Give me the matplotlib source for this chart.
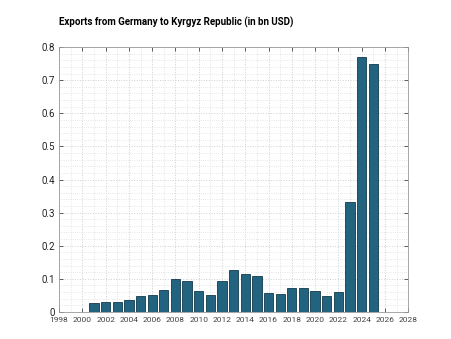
import matplotlib.pyplot as plt
from matplotlib.ticker import MultipleLocator

plt.rcParams["font.family"] = ["Roboto", "DejaVu Sans"]

years = list(range(2001, 2026))
exports = [0.028, 0.030, 0.031, 0.036, 0.048, 0.051, 0.066, 0.098, 0.092,
           0.063, 0.051, 0.092, 0.127, 0.115, 0.108, 0.057, 0.054, 0.071,
           0.072, 0.063, 0.047, 0.059, 0.332, 0.771, 0.748]
title = "Exports from Germany to Kyrgyz Republic (in bn USD)"

fig = plt.figure(figsize=(4.51, 3.39), dpi=100)
ax = fig.add_axes([0.131, 0.080, 0.774, 0.781])

ax.bar(years, exports, width=0.8, color="#22637f", edgecolor="#123a4c",
       linewidth=0.6, zorder=3)

ax.set_xlim(1998, 2028)
ax.set_ylim(0, 0.8)
ax.xaxis.set_major_locator(MultipleLocator(2))
ax.xaxis.set_minor_locator(MultipleLocator(1))
ax.yaxis.set_major_locator(MultipleLocator(0.1))
ax.yaxis.set_minor_locator(MultipleLocator(0.02))
ax.yaxis.set_major_formatter(lambda v, p: "0" if v == 0 else f"{v:g}")

ax.grid(which="major", color="#cfcfcf", linestyle=":", linewidth=0.7, zorder=0)
ax.grid(which="minor", color="#dedede", linestyle=":", linewidth=0.6, zorder=0)
ax.tick_params(which="both", direction="in", top=True, right=True,
               colors="#444444", labelcolor="#222222")
ax.tick_params(which="major", length=3, width=0.6)
ax.tick_params(which="minor", length=0)
ax.tick_params(axis="x", labelsize=6, pad=4, labelcolor="#444444")
ax.tick_params(axis="y", labelsize=7, pad=3)
for s in ax.spines.values():
    s.set_color("#999999")
    s.set_linewidth(0.6)

fig.text(0.131, 0.935, title, fontsize=7, fontweight="bold", ha="left",
         va="center")

fig.savefig("out.png", dpi=100)
